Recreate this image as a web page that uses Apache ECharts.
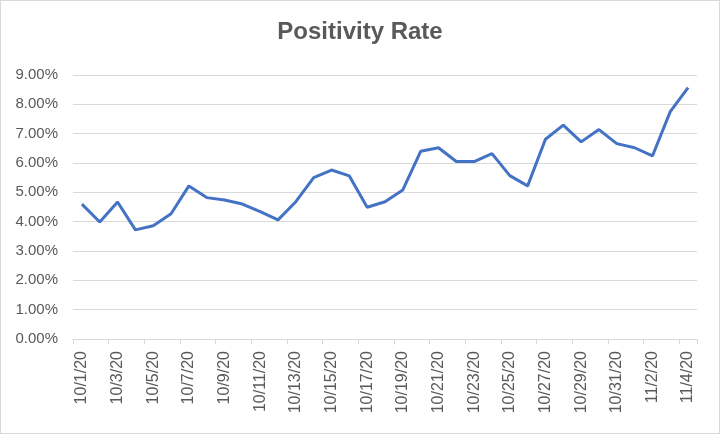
<!DOCTYPE html>
<html>
<head>
<meta charset="utf-8">
<script src="https://cdn.jsdelivr.net/npm/echarts@6/dist/echarts.min.js"></script>
<style>
html,body{margin:0;padding:0;background:#fff;}
#chart{position:absolute;left:0;top:0;width:718px;height:432px;border:1px solid #d9d9d9;}
</style>
</head>
<body>
<div id="chart"></div>
<script>
const categories = ['10/1/20','10/2/20','10/3/20','10/4/20','10/5/20','10/6/20','10/7/20','10/8/20','10/9/20','10/10/20',
  '10/11/20','10/12/20','10/13/20','10/14/20','10/15/20','10/16/20','10/17/20','10/18/20','10/19/20','10/20/20',
  '10/21/20','10/22/20','10/23/20','10/24/20','10/25/20','10/26/20','10/27/20','10/28/20','10/29/20','10/30/20',
  '10/31/20','11/1/20','11/2/20','11/3/20','11/4/20'];
const positivityRate = [4.60,3.99,4.67,3.72,3.86,4.27,5.22,4.82,4.74,4.60,
  4.34,4.06,4.68,5.50,5.76,5.56,4.49,4.68,5.08,6.40,
  6.52,6.05,6.05,6.32,5.57,5.22,6.81,7.29,6.72,7.14,
  6.66,6.52,6.24,7.75,8.57];
const yTicks = {min:0, max:9, interval:1};

const chart = echarts.init(document.getElementById('chart'));
chart.setOption({
  animation:false,
  title:{text:'Positivity Rate',left:'center',top:14,
    textStyle:{fontFamily:'Liberation Sans',fontWeight:'bold',fontSize:24,color:'#595959'}},
  grid:{left:72,right:22,top:74,bottom:94},
  xAxis:{type:'category',data:categories,boundaryGap:true,
    axisLine:{lineStyle:{color:'#d9d9d9',width:1}},
    axisTick:{show:true,interval:1,length:5,lineStyle:{color:'#d9d9d9'}},
    axisLabel:{interval:1,rotate:90,color:'#595959',fontSize:16,fontFamily:'Liberation Sans',margin:12}},
  yAxis:{type:'value',min:yTicks.min,max:yTicks.max,interval:yTicks.interval,
    axisLine:{show:false},axisTick:{show:false},
    splitLine:{lineStyle:{color:'#d9d9d9',width:1}},
    axisLabel:{formatter:v=>v.toFixed(2)+'%',color:'#595959',fontSize:15,fontFamily:'Liberation Sans',margin:15}},
  series:[{type:'line',data:positivityRate,symbol:'none',
    lineStyle:{color:'#4472C4',width:3},itemStyle:{color:'#4472C4'}}]
});
</script>
</body>
</html>
